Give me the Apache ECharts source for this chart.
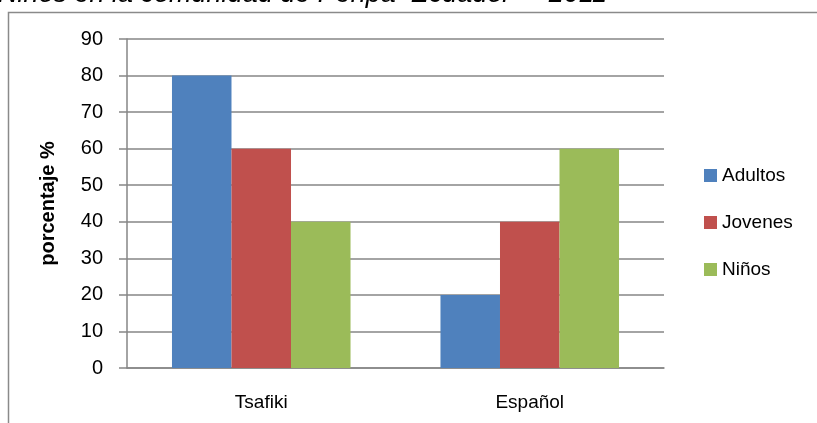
<!DOCTYPE html>
<html><head><meta charset="utf-8">
<script src="https://cdn.jsdelivr.net/npm/echarts@6/dist/echarts.min.js"></script>
<style>html,body{margin:0;padding:0;background:#fff}#c{width:817px;height:423px}</style>
</head><body><div id="c"></div>
<script>
const categories = ['Tsafiki', 'Español'];
const seriesNames = ['Adultos', 'Jovenes', 'Niños'];
const adultos = [80, 20];
const jovenes = [60, 40];
const ninos = [40, 60];
const colors = ['#4F81BD', '#C0504D', '#9BBB59'];
const titleText = 'Niños en la comunidad de Peripa  Ecuador  – 2011';
const yName = 'porcentaje %';

const chart = echarts.init(document.getElementById('c'));
const font = 'Liberation Sans, Arial, sans-serif';
chart.setOption({
  animation: false,
  textStyle: { fontFamily: font },
  title: {
    text: titleText, left: -2, top: -19, padding: 0,
    textStyle: { fontFamily: font, fontStyle: 'italic', fontWeight: 'normal', fontSize: 27, color: '#000' }
  },
  graphic: [{
    type: 'polyline', silent: true,
    shape: { points: [[8.5, 423], [8.5, 12.5], [817, 12.5]] },
    style: { stroke: '#8a8a8a', lineWidth: 1.5, fill: null }
  }],
  legend: {
    orient: 'vertical', left: 699, top: 161, itemWidth: 13, itemHeight: 13, itemGap: 28,
    icon: 'rect', itemTextGap: 6,
    textStyle: { fontFamily: font, fontSize: 19, color: '#000' },
    data: seriesNames
  },
  grid: { left: 127, right: 153, top: 39, bottom: 55, containLabel: false },
  xAxis: {
    type: 'category', data: categories,
    axisLine: { lineStyle: { color: '#868686', width: 1.5 } },
    axisTick: { show: false },
    axisLabel: { color: '#000', fontSize: 19, fontFamily: font, margin: 25 }
  },
  yAxis: {
    type: 'value', min: 0, max: 90, interval: 10,
    name: yName, nameLocation: 'middle', nameGap: 69, nameRotate: 90,
    nameTextStyle: { fontFamily: font, fontWeight: 'bold', fontSize: 20, color: '#000' },
    axisLine: { show: true, lineStyle: { color: '#868686', width: 1.5 } },
    axisTick: { show: true, length: 8, lineStyle: { color: '#868686', width: 1.5 } },
    splitLine: { lineStyle: { color: '#868686', width: 1.5 } },
    axisLabel: { color: '#000', fontSize: 20, fontFamily: font, margin: 24 }
  },
  series: [
    { name: seriesNames[0], type: 'bar', data: adultos, itemStyle: { color: colors[0] }, barGap: '0%', barCategoryGap: '33.5%' },
    { name: seriesNames[1], type: 'bar', data: jovenes, itemStyle: { color: colors[1] } },
    { name: seriesNames[2], type: 'bar', data: ninos, itemStyle: { color: colors[2] } }
  ]
});
</script></body></html>
